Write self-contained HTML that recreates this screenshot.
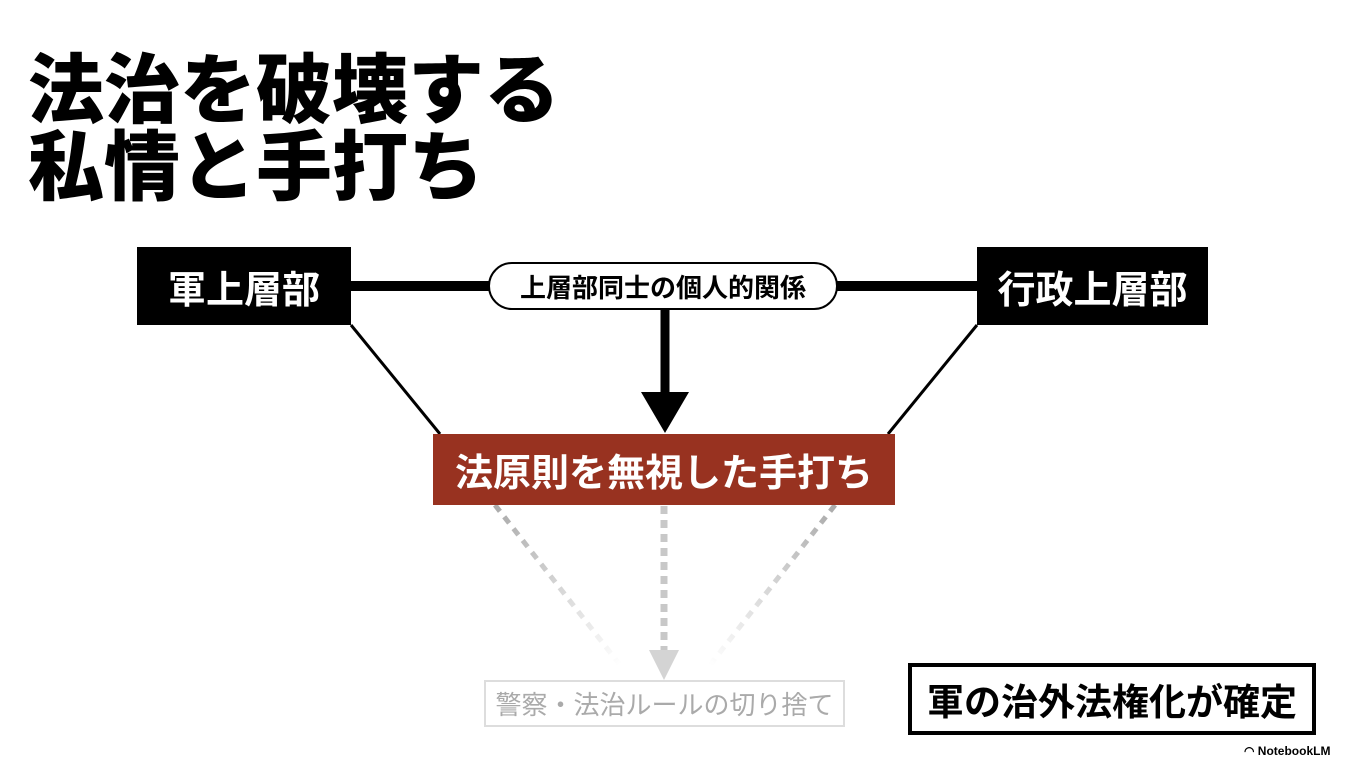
<!DOCTYPE html>
<html><head><meta charset="utf-8"><style>
body{margin:0;width:1363px;height:769px;background:#fff;position:relative;overflow:hidden;font-family:"Liberation Sans","Noto Sans CJK JP",sans-serif}
.a{position:absolute;box-sizing:border-box;display:flex;align-items:center;justify-content:center;white-space:nowrap}
</style></head><body>
<div class="a" style="left:28px;top:53px;display:block;font-size:76px;font-weight:900;line-height:77px;color:#000">法治を破壊する<br>私情と手打ち</div>
<svg width="1363" height="769" style="position:absolute;left:0;top:0">
<line x1="351" y1="286" x2="977" y2="286" stroke="#000" stroke-width="10"/>
<line x1="351" y1="325" x2="440" y2="434" stroke="#000" stroke-width="3"/>
<line x1="977" y1="325" x2="888" y2="434" stroke="#000" stroke-width="3"/>
<line x1="665" y1="310" x2="665" y2="395" stroke="#000" stroke-width="9"/>
<polygon points="641,392 689,392 665,433" fill="#000"/>
<defs>
<linearGradient id="gl" x1="495" y1="505" x2="620" y2="665" gradientUnits="userSpaceOnUse"><stop offset="0" stop-color="#aaa"/><stop offset="1" stop-color="#fff"/></linearGradient>
<linearGradient id="gr" x1="835" y1="505" x2="710" y2="665" gradientUnits="userSpaceOnUse"><stop offset="0" stop-color="#aaa"/><stop offset="1" stop-color="#fff"/></linearGradient>
</defs>
<line x1="495" y1="505" x2="620" y2="665" stroke="url(#gl)" stroke-width="5" stroke-dasharray="8,7"/>
<line x1="835" y1="505" x2="710" y2="665" stroke="url(#gr)" stroke-width="5" stroke-dasharray="8,7"/>
<line x1="664" y1="506" x2="664" y2="652" stroke="#c8c8c8" stroke-width="7" stroke-dasharray="8,6"/>
<polygon points="649,650 679,650 664,680" fill="#d4d4d4"/>
</svg>
<div class="a" style="left:137px;top:247px;width:214px;height:78px;background:#000;color:#fff;font-size:38px;font-weight:bold">軍上層部</div>
<div class="a" style="left:977px;top:247px;width:231px;height:78px;background:#000;color:#fff;font-size:38px;font-weight:bold">行政上層部</div>
<div class="a" style="left:488px;top:262px;width:350px;height:48px;background:#fff;border:2px solid #000;border-radius:24px;font-size:26px;font-weight:bold">上層部同士の個人的関係</div>
<div class="a" style="left:433px;top:434px;width:462px;height:71px;background:#983220;color:#fff;font-size:38px;font-weight:bold">法原則を無視した手打ち</div>
<div class="a" style="left:484px;top:680px;width:361px;height:47px;border:2px solid #ddd;color:#aaa;font-size:26px">警察・法治ルールの切り捨て</div>
<div class="a" style="left:908px;top:663px;width:408px;height:72px;border:4px solid #000;font-size:37px;font-weight:bold">軍の治外法権化が確定</div>
<div class="a" style="left:1244px;top:744px;font-size:12px;font-weight:bold">◠ NotebookLM</div>
</body></html>
